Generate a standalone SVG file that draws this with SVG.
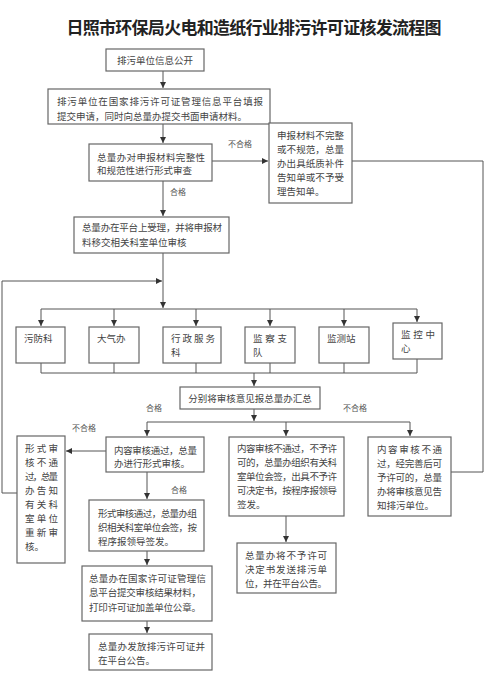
<svg xmlns="http://www.w3.org/2000/svg" width="500" height="680" viewBox="0 0 500 680">
<style>
.b{fill:#fff;stroke:#666;stroke-width:1.2}
.t{font-family:"Noto Sans CJK SC","Noto Sans",sans-serif;font-size:9.5px;fill:#444}
.l{font-family:"Noto Sans CJK SC","Noto Sans",sans-serif;font-size:8px;fill:#555}
.c{stroke:#555;stroke-width:1;fill:none}
.ttl{font-family:"Noto Sans CJK SC","Noto Sans",sans-serif;font-size:17px;font-weight:bold;fill:#222}
</style>
<defs>
<marker id="ar" markerUnits="userSpaceOnUse" markerWidth="6" markerHeight="6" refX="6" refY="3" orient="auto"><path d="M0,0 L6,3 L0,6 z" fill="#333"/></marker>
</defs>
<rect width="500" height="680" fill="#fff"/>
<text class="ttl" x="254" y="34" text-anchor="middle" textLength="375" lengthAdjust="spacing">日照市环保局火电和造纸行业排污许可证核发流程图</text>

<g id="connectors" class="c">
<path d="M163,71 V88" marker-end="url(#ar)"/>
<path d="M163,124 V143" marker-end="url(#ar)"/>
<path d="M212,161 H268" marker-end="url(#ar)"/>
<path d="M163,181 V216" marker-end="url(#ar)"/>
<path d="M163,253 V308" marker-end="url(#ar)"/>
<path d="M17,493 H2 V281 H162" marker-end="url(#ar)"/>
<path d="M352,161 H483 V472 H451"/>
<path d="M41,309 H417"/>
<path d="M41,309 V326" marker-end="url(#ar)"/>
<path d="M114,309 V326" marker-end="url(#ar)"/>
<path d="M196,309 V326" marker-end="url(#ar)"/>
<path d="M270,309 V326" marker-end="url(#ar)"/>
<path d="M344,309 V326" marker-end="url(#ar)"/>
<path d="M417,309 V322" marker-end="url(#ar)"/>
<path d="M41,363 V373 M114,363 V373 M196,363 V373 M270,363 V373 M344,363 V373 M417,359 V373 M41,373 H417"/>
<path d="M254,373 V386" marker-end="url(#ar)"/>
<path d="M254,409 V421" marker-end="url(#ar)"/>
<path d="M147,422 H410"/>
<path d="M147,422 V436" marker-end="url(#ar)"/>
<path d="M286,422 V436" marker-end="url(#ar)"/>
<path d="M410,422 V436" marker-end="url(#ar)"/>
<path d="M106,451 H66" marker-end="url(#ar)"/>
<path d="M147,472 V499" marker-end="url(#ar)"/>
<path d="M147,551 V565" marker-end="url(#ar)"/>
<path d="M147,621 V633" marker-end="url(#ar)"/>
<path d="M286,516 V542" marker-end="url(#ar)"/>
</g>

<g id="labels">
<text class="l" x="240" y="147" text-anchor="middle">不合格</text>
<text class="l" x="178" y="195" text-anchor="middle">合格</text>
<text class="l" x="154" y="411" text-anchor="middle">合格</text>
<text class="l" x="355" y="411" text-anchor="middle">不合格</text>
<text class="l" x="84" y="431" text-anchor="middle">不合格</text>
<text class="l" x="179" y="493" text-anchor="middle">合格</text>
</g>

<g id="n1"><rect class="b" x="106" y="49" width="98" height="22"/>
<text class="t" x="155" y="63.5" text-anchor="middle">排污单位信息公开</text></g>

<g id="n2"><rect class="b" x="48" y="89" width="222" height="35"/>
<text class="t" x="57" y="104.5" textLength="206" lengthAdjust="spacing">排污单位在国家排污许可证管理信息平台填报</text>
<text class="t" x="57" y="119.5" textLength="190" lengthAdjust="spacing">提交申请，同时向总量办提交书面申请材料。</text></g>

<g id="n3"><rect class="b" x="89" y="144" width="123" height="37"/>
<text class="t" x="97" y="160.5" textLength="108" lengthAdjust="spacing">总量办对申报材料完整性</text>
<text class="t" x="97" y="174">和规范性进行形式审查</text></g>

<g id="n4"><rect class="b" x="269" y="123" width="83" height="80"/>
<text class="t" x="277" y="138.5" textLength="67" lengthAdjust="spacing">申报材料不完整</text>
<text class="t" x="277" y="152.5" textLength="67" lengthAdjust="spacing">或不规范，总量</text>
<text class="t" x="277" y="166.5" textLength="67" lengthAdjust="spacing">办出具纸质补件</text>
<text class="t" x="277" y="180.5" textLength="67" lengthAdjust="spacing">告知单或不予受</text>
<text class="t" x="277" y="195">理告知单。</text></g>

<g id="n5"><rect class="b" x="74" y="217" width="155" height="36"/>
<text class="t" x="82" y="230.5" textLength="140" lengthAdjust="spacing">总量办在平台上受理，并将申报材</text>
<text class="t" x="82" y="246">料移交相关科室单位审核</text></g>

<g id="d1"><rect class="b" x="16" y="327" width="49" height="36"/>
<text class="t" x="24" y="341.5">污防科</text></g>
<g id="d2"><rect class="b" x="89" y="327" width="50" height="36"/>
<text class="t" x="97" y="341.5">大气办</text></g>
<g id="d3"><rect class="b" x="163" y="327" width="58" height="36"/>
<text class="t" x="171" y="341.5" textLength="44" lengthAdjust="spacing">行政服务</text>
<text class="t" x="171" y="355.5">科</text></g>
<g id="d4"><rect class="b" x="245" y="327" width="50" height="36"/>
<text class="t" x="253" y="341.5" textLength="34" lengthAdjust="spacing">监察支</text>
<text class="t" x="253" y="355.5">队</text></g>
<g id="d5"><rect class="b" x="319" y="327" width="50" height="36"/>
<text class="t" x="327" y="341.5">监测站</text></g>
<g id="d6"><rect class="b" x="393" y="323" width="49" height="36"/>
<text class="t" x="401" y="337.5" textLength="34" lengthAdjust="spacing">监控中</text>
<text class="t" x="401" y="351.5">心</text></g>

<g id="n6"><rect class="b" x="180" y="387" width="140" height="22"/>
<text class="t" x="250" y="401.5" text-anchor="middle">分别将审核意见报总量办汇总</text></g>

<g id="n7"><rect class="b" x="106" y="437" width="98" height="35"/>
<text class="t" x="114" y="453.5" textLength="83" lengthAdjust="spacing">内容审核通过，总量</text>
<text class="t" x="114" y="466.5">办进行形式审核。</text></g>

<g id="n8"><rect class="b" x="17" y="436" width="48" height="127"/>
<text class="t" x="25" y="451.5" textLength="33" lengthAdjust="spacing">形式审</text>
<text class="t" x="25" y="465.5" textLength="33" lengthAdjust="spacing">核不通</text>
<text class="t" x="25" y="479.5" textLength="33" lengthAdjust="spacing">过，总量</text>
<text class="t" x="25" y="493.5" textLength="33" lengthAdjust="spacing">办告知</text>
<text class="t" x="25" y="507.5" textLength="33" lengthAdjust="spacing">有关科</text>
<text class="t" x="25" y="521.5" textLength="33" lengthAdjust="spacing">室单位</text>
<text class="t" x="25" y="535.5" textLength="33" lengthAdjust="spacing">重新审</text>
<text class="t" x="25" y="550">核。</text></g>

<g id="n9"><rect class="b" x="89" y="500" width="115" height="51"/>
<text class="t" x="98" y="516.5" textLength="99" lengthAdjust="spacing">形式审核通过，总量办组</text>
<text class="t" x="98" y="530.5" textLength="99" lengthAdjust="spacing">织相关科室单位会签，按</text>
<text class="t" x="98" y="544.5">程序报领导签发。</text></g>

<g id="n10"><rect class="b" x="82" y="566" width="130" height="55"/>
<text class="t" x="89" y="581.5" textLength="117" lengthAdjust="spacing">总量办在国家许可证管理信</text>
<text class="t" x="89" y="596" textLength="112" lengthAdjust="spacing">息平台提交审核结果材料，</text>
<text class="t" x="89" y="610.5" textLength="112" lengthAdjust="spacing">打印许可证加盖单位公章。</text></g>

<g id="n11"><rect class="b" x="89" y="634" width="123" height="36"/>
<text class="t" x="98" y="649.5" textLength="107" lengthAdjust="spacing">总量办发放排污许可证并</text>
<text class="t" x="98" y="663.5">在平台公告。</text></g>

<g id="n12"><rect class="b" x="229" y="437" width="115" height="79"/>
<text class="t" x="237" y="451.5" textLength="100" lengthAdjust="spacing">内容审核不通过，不予许</text>
<text class="t" x="237" y="465.5" textLength="100" lengthAdjust="spacing">可的，总量办组织有关科</text>
<text class="t" x="237" y="479.5" textLength="100" lengthAdjust="spacing">室单位会签，出具不予许</text>
<text class="t" x="237" y="493.5" textLength="100" lengthAdjust="spacing">可决定书，按程序报领导</text>
<text class="t" x="237" y="508">签发。</text></g>

<g id="n13"><rect class="b" x="237" y="543" width="99" height="50"/>
<text class="t" x="245" y="558.5" textLength="82" lengthAdjust="spacing">总量办将不予许可</text>
<text class="t" x="245" y="572.5" textLength="82" lengthAdjust="spacing">决定书发送排污单</text>
<text class="t" x="245" y="586.5" textLength="82" lengthAdjust="spacing">位，并在平台公告。</text></g>

<g id="n14"><rect class="b" x="368" y="437" width="83" height="79"/>
<text class="t" x="377" y="452.5" textLength="65" lengthAdjust="spacing">内容审核不通</text>
<text class="t" x="377" y="466.5" textLength="65" lengthAdjust="spacing">过，经完善后可</text>
<text class="t" x="377" y="480.5" textLength="65" lengthAdjust="spacing">予许可的，总量</text>
<text class="t" x="377" y="494.5" textLength="65" lengthAdjust="spacing">办将审核意见告</text>
<text class="t" x="377" y="508.5">知排污单位。</text></g>
</svg>
